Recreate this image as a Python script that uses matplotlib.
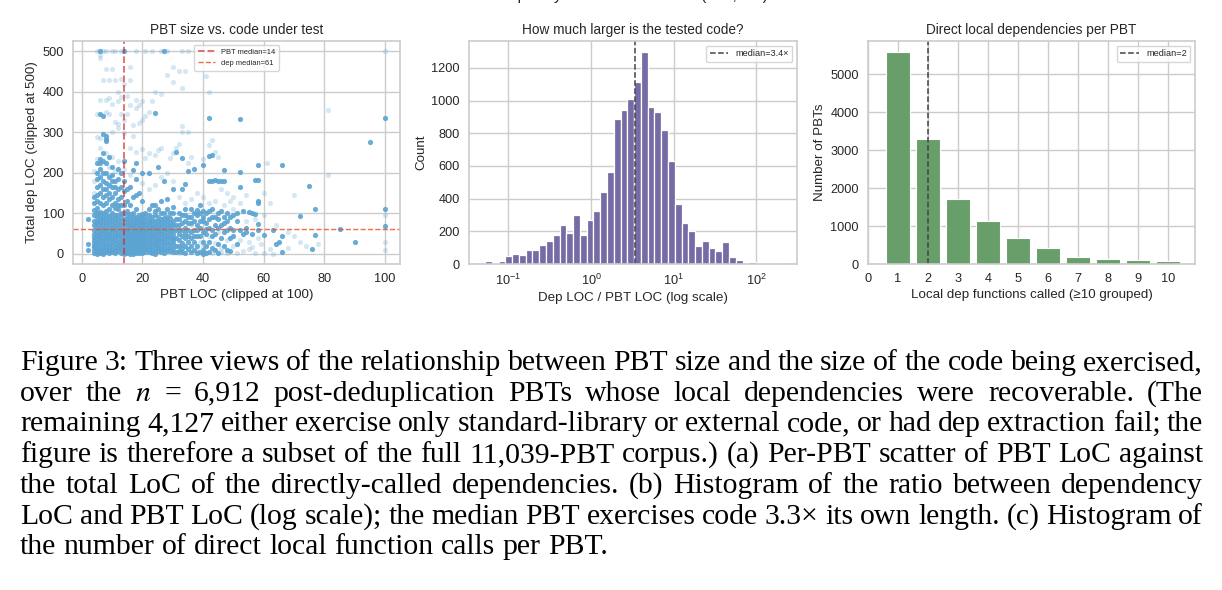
import numpy as np
import matplotlib
matplotlib.use("Agg")
import matplotlib.pyplot as plt
import seaborn as sns

# ---------------- data ----------------
# (a) scatter: (PBT LOC, total dep LOC) pairs
# strongly-drawn (overlapping) points
dense_points = [
    (2, 85), (2, 25), (2, 10),
    (4, 2), (4, 10), (4, 18), (4, 26), (4, 34), (4, 42), (4, 50), (4, 60), (4, 70), (4, 80), (4, 95), (4, 108), (4, 20),
    (4, 125), (4, 140),
    (5, 0), (5, 6), (5, 14), (5, 22), (5, 30), (5, 38), (5, 46), (5, 55), (5, 64), (5, 73), (5, 82), (5, 92), (5, 102),
    (5, 112), (5, 145), (5, 165), (5, 225), (5, 130), (5, 185), (5, 200),
    (6, 3), (6, 10), (6, 18), (6, 26), (6, 34), (6, 42), (6, 50), (6, 58), (6, 66), (6, 75), (6, 84), (6, 93), (6, 103),
    (6, 125), (6, 150), (6, 500), (6, 345), (6, 225), (6, 170), (6, 190), (6, 210), (6, 235),
    (7, 0), (7, 7), (7, 15), (7, 23), (7, 31), (7, 40), (7, 48), (7, 56), (7, 65), (7, 74), (7, 83), (7, 92), (7, 101),
    (7, 160), (7, 295), (7, 340), (7, 230), (7, 120), (7, 140), (7, 180), (7, 200), (7, 250),
    (8, 4), (8, 12), (8, 20), (8, 28), (8, 36), (8, 44), (8, 52), (8, 61), (8, 70), (8, 79), (8, 88), (8, 97), (8, 106),
    (8, 125), (8, 175), (8, 290), (8, 283), (8, 278), (8, 200), (8, 145), (8, 160), (8, 225),
    (9, 1), (9, 9), (9, 17), (9, 25), (9, 33), (9, 41), (9, 49), (9, 57), (9, 66), (9, 75), (9, 84), (9, 94), (9, 170),
    (9, 110), (9, 135), (9, 150), (9, 190), (9, 240),
    (10, 5), (10, 13), (10, 21), (10, 29), (10, 37), (10, 45), (10, 53), (10, 62), (10, 71), (10, 80), (10, 90),
    (10, 100), (10, 140), (10, 165), (10, 195), (10, 120), (10, 180), (10, 215),
    (11, 2), (11, 10), (11, 18), (11, 26), (11, 34), (11, 43), (11, 51), (11, 60), (11, 69), (11, 78), (11, 88),
    (11, 112), (11, 180), (11, 125), (11, 150), (11, 165), (11, 97),
    (12, 6), (12, 14), (12, 22), (12, 30), (12, 38), (12, 47), (12, 55), (12, 64), (12, 73), (12, 83), (12, 95),
    (12, 135), (12, 160), (12, 185), (12, 110), (12, 120), (12, 210),
    (13, 3), (13, 11), (13, 19), (13, 27), (13, 35), (13, 44), (13, 52), (13, 61), (13, 70), (13, 80), (13, 120),
    (13, 200), (13, 90), (13, 100), (13, 140), (13, 165),
    (14, 8), (14, 16), (14, 24), (14, 32), (14, 40), (14, 50), (14, 60), (14, 72), (14, 85), (14, 155), (14, 500),
    (14, 0), (14, 100), (14, 120), (14, 180), (14, 230),
    (15, 2), (15, 12), (15, 25), (15, 38), (15, 50), (15, 62), (15, 78), (15, 95), (15, 160),
    (15, 7), (15, 18), (15, 31), (15, 44), (15, 56), (15, 70), (15, 86), (15, 105), (15, 130),
    (16, 6), (16, 18), (16, 30), (16, 44), (16, 56), (16, 70), (16, 88), (16, 165),
    (16, 0), (16, 12), (16, 24), (16, 37), (16, 50), (16, 63), (16, 78), (16, 98), (16, 120),
    (17, 0), (17, 14), (17, 26), (17, 40), (17, 52), (17, 66), (17, 80), (17, 100), (17, 207),
    (17, 7), (17, 20), (17, 33), (17, 46), (17, 59), (17, 73), (17, 90), (17, 140),
    (18, 8), (18, 20), (18, 34), (18, 48), (18, 60), (18, 75), (18, 92), (18, 145), (18, 185), (18, 225),
    (18, 2), (18, 14), (18, 27), (18, 41), (18, 54), (18, 68), (18, 84), (18, 110),
    (19, 3), (19, 16), (19, 30), (19, 45), (19, 58), (19, 72), (19, 86),
    (19, 9), (19, 23), (19, 37), (19, 51), (19, 65), (19, 79), (19, 95), (19, 150),
    (20, 10), (20, 24), (20, 38), (20, 52), (20, 66), (20, 80), (20, 98), (20, 130), (20, 200),
    (20, 3), (20, 17), (20, 31), (20, 45), (20, 59), (20, 73), (20, 88),
    (21, 5), (21, 18), (21, 32), (21, 46), (21, 60), (21, 74), (21, 90),
    (21, 11), (21, 25), (21, 39), (21, 53), (21, 67), (21, 82), (21, 100),
    (22, 12), (22, 28), (22, 42), (22, 56), (22, 70), (22, 85), (22, 110), (22, 200),
    (22, 4), (22, 20), (22, 35), (22, 49), (22, 63), (22, 78), (22, 95),
    (23, 2), (23, 20), (23, 36), (23, 50), (23, 65), (23, 80), (23, 120),
    (23, 10), (23, 28), (23, 43), (23, 58), (23, 72), (23, 90),
    (24, 8), (24, 25), (24, 40), (24, 58), (24, 72), (24, 95), (24, 120), (24, 348),
    (24, 0), (24, 16), (24, 32), (24, 49), (24, 65), (24, 82), (24, 105),
    (25, 15), (25, 32), (25, 48), (25, 64), (25, 80), (25, 214),
    (25, 6), (25, 23), (25, 40), (25, 56), (25, 72), (25, 90), (25, 110),
    (26, 4), (26, 22), (26, 40), (26, 56), (26, 75), (26, 100), (26, 130),
    (26, 12), (26, 31), (26, 48), (26, 66), (26, 85),
    (27, 12), (27, 30), (27, 50), (27, 68), (27, 88), (27, 180), (27, 500),
    (27, 3), (27, 21), (27, 40), (27, 59), (27, 78), (27, 100),
    (28, 6), (28, 26), (28, 45), (28, 62), (28, 80), (28, 135),
    (28, 15), (28, 36), (28, 54), (28, 71), (28, 90), (28, 110),
    (29, 18), (29, 38), (29, 58), (29, 78), (29, 100),
    (29, 8), (29, 28), (29, 48), (29, 68), (29, 88),
    (30, 4), (30, 28), (30, 35), (30, 50), (30, 70), (30, 115), (30, 160),
    (30, 15), (30, 40), (30, 60), (30, 82), (30, 100),
    (31, 60), (31, 85), (31, 252), (31, 5), (31, 20), (31, 40), (31, 72),
    (32, 20), (32, 72), (32, 8), (32, 35), (32, 50), (32, 60), (32, 85), (32, 100),
    (33, 5), (33, 45), (33, 95), (33, 160), (33, 237), (33, 15), (33, 28), (33, 60), (33, 75),
    (34, 65), (34, 80), (34, 172), (34, 2), (34, 20), (34, 40), (34, 52), (34, 95), (34, 110),
    (35, 30), (35, 75), (35, 205), (35, 12), (35, 45), (35, 58), (35, 90),
    (36, 5), (36, 40), (36, 90), (36, 110), (36, 20), (36, 55), (36, 75),
    (37, 60), (37, 100), (37, 210), (37, 10), (37, 30), (37, 45), (37, 80),
    (38, 2), (38, 45), (38, 70), (38, 95), (38, 20), (38, 58), (38, 108),
    (39, 80), (39, 120), (39, 5), (39, 45), (39, 65), (39, 100),
    (40, 55), (40, 105), (40, 218), (40, 0), (40, 10), (40, 30), (40, 80), (40, 92),
    (41, 3), (41, 75), (41, 100), (41, 20), (41, 50), (41, 62),
    (42, 85), (42, 180), (42, 241), (42, 335), (42, 5), (42, 30), (42, 65), (42, 105),
    (43, 60), (43, 110), (43, 180), (43, 243), (43, 15), (43, 45), (43, 90),
    (44, 10), (44, 90), (44, 181), (44, 50), (44, 70),
    (45, 65), (45, 100), (45, 180), (45, 1), (45, 25), (45, 85),
    (46, 105), (46, 180), (46, 40), (46, 70),
    (47, 20), (47, 90), (47, 180), (47, 208), (47, 55), (47, 75),
    (48, 60), (48, 100), (48, 10), (48, 80),
    (49, 7), (49, 90), (49, 40), (49, 65),
    (50, 60), (50, 45), (50, 95), (51, 80), (51, 25), (51, 100),
    (52, 60), (52, 165), (52, 201), (52, 333), (53, 48), (53, 105), (54, 55), (54, 65),
    (55, 104), (56, 50), (56, 100), (57, 98), (57, 182), (58, 60), (58, 73), (58, 125), (58, 130), (58, 183),
    (58, 220), (60, 47), (63, 60), (64, 25), (65, 30), (66, 5), (66, 43), (66, 218), (72, 93), (75, 167),
    (76, 12), (77, 47), (77, 110), (85, 62), (90, 30), (95, 276), (100, 110), (100, 68), (100, 335),
]
# lightly-drawn (single) points
faint_points = [
    (5, 500), (7, 500), (8, 500), (10, 500), (11, 500), (13, 500), (18, 500), (21, 500), (23, 500), (26, 500),
    (28, 500), (33, 500), (35, 500), (42, 500), (100, 500),
    (6, 490), (6, 483), (8, 457), (10, 455), (7, 430), (9, 428), (11, 428), (13, 432), (16, 462), (14, 420),
    (16, 430), (12, 400), (28, 440), (30, 462), (32, 452), (34, 452), (30, 425), (41, 438), (42, 400), (33, 410),
    (6, 380), (8, 380), (9, 385), (10, 370), (12, 378), (13, 388), (15, 390), (18, 380), (20, 378), (19, 368),
    (23, 378), (22, 350), (21, 340), (20, 330), (19, 323), (17, 318), (14, 330), (12, 320), (11, 325), (9, 345),
    (8, 350), (5, 345), (13, 345), (15, 346), (18, 360), (16, 368), (24, 398), (26, 395),
    (33, 315), (33, 300), (35, 300), (43, 280), (42, 268), (44, 252), (45, 240), (40, 235), (36, 240), (35, 225),
    (32, 270), (31, 260), (30, 250), (29, 236), (26, 262), (25, 255), (24, 245), (22, 250), (21, 236), (20, 258),
    (18, 252), (16, 262), (17, 290), (14, 298), (10, 300), (12, 310), (6, 285), (5, 288),
    (81, 355), (81, 195), (70, 145), (72, 30), (61, 225), (60, 150), (62, 12), (58, 40), (55, 30), (50, 20),
    (48, 35), (45, 55), (42, 45), (40, 20), (100, 95), (100, 10), (100, 30), (78, 25), (68, 15), (62, 125),
    (54, 145), (50, 140), (48, 150), (46, 160), (44, 130), (40, 140), (38, 150), (36, 135), (34, 125), (32, 140),
    (30, 180), (28, 200), (26, 190), (24, 170), (22, 160), (20, 175), (16, 195), (14, 210), (12, 230), (10, 240),
    (8, 250), (6, 260), (5, 235), (9, 215), (11, 205), (4, 205), (4, 180), (4, 150), (56, 18), (53, 8), (46, 5),
    (44, 28), (52, 35), (54, 80), (57, 85), (60, 95), (64, 70), (68, 55), (70, 45), (74, 20), (36, 70), (39, 30),
    (42, 125), (47, 120), (49, 130), (50, 110), (52, 125),
    (32, 2), (43, 2), (48, 3), (51, 2), (57, 1), (60, 3), (63, 0), (55, 12), (59, 25), (46, 15), (38, 10),
]
pbt_loc_dense = [p[0] for p in dense_points]
dep_loc_dense = [p[1] for p in dense_points]
pbt_loc_faint = [p[0] for p in faint_points]
dep_loc_faint = [p[1] for p in faint_points]

pbt_median = 14
dep_median = 61

# (b) histogram of dep LOC / PBT LOC (log bins)
ratio_bin_lo, ratio_bin_hi, ratio_n_bins = 0.052, 213.0, 44
ratio_counts = [18, 0, 20, 51, 59, 53, 84, 84, 116, 141, 176, 239, 188, 300, 176,
                267, 322, 443, 561, 888, 943, 1010, 1116, 1296, 959, 929, 820,
                631, 369, 251, 204, 112, 141, 98, 82, 137, 41, 24, 2, 10, 0, 0, 0, 1]
ratio_median = 3.4

# (c) number of direct local dependency functions called
n_deps = [1, 2, 3, 4, 5, 6, 7, 8, 9, 10]
n_pbts = [5572, 3292, 1699, 1127, 678, 423, 194, 141, 114, 70]
deps_median = 2

caption_lines = [
    "Figure 3: Three views of the relationship between PBT size and the size of the code being exercised,",
    "over the $n$ = 6,912 post-deduplication PBTs whose local dependencies were recoverable. (The",
    "remaining 4,127 either exercise only standard-library or external code, or had dep extraction fail; the",
    "figure is therefore a subset of the full 11,039-PBT corpus.) (a) Per-PBT scatter of PBT LoC against",
    "the total LoC of the directly-called dependencies. (b) Histogram of the ratio between dependency",
    "LoC and PBT LoC (log scale); the median PBT exercises code 3.3\u00d7 its own length. (c) Histogram of",
    "the number of direct local function calls per PBT.",
]

# ---------------- style ----------------
sns.set_style("whitegrid")
plt.rcParams["font.family"] = ["Liberation Sans", "DejaVu Sans"]
plt.rcParams["mathtext.fontset"] = "stix"
plt.rcParams["axes.edgecolor"] = "#cccccc"
plt.rcParams["grid.color"] = "#cccccc"

W, H = 1222, 590
fig = plt.figure(figsize=(W / 100, H / 100), dpi=100)

def px_axes(l, t, r, b):
    return fig.add_axes([l / W, 1 - b / H, (r - l) / W, (b - t) / H])

ax1 = px_axes(73, 41, 400, 264)
ax2 = px_axes(469, 41, 797, 264)
ax3 = px_axes(868, 41, 1195, 264)

TICK_FS = 9.2
LAB_FS = 9.6
TITLE_FS = 9.8
TXT = "#262626"

blue = "#5aa3d2"
# (a)
ax1.scatter(pbt_loc_faint, dep_loc_faint, s=14, color=blue, alpha=0.25, linewidths=0)
ax1.scatter(pbt_loc_dense, dep_loc_dense, s=14, color=blue, alpha=0.9, linewidths=0)
ax1.axvline(pbt_median, color="#d62728", ls="--", lw=1.3, alpha=0.7, label=f"PBT median={pbt_median}")
ax1.axhline(dep_median, color="#e4572e", ls="--", lw=1.0, alpha=0.85, label=f"dep median={dep_median}")
ax1.set_xlim(-2.9, 104.9)
ax1.set_ylim(-25, 525)
ax1.set_xticks([0, 20, 40, 60, 80, 100])
ax1.set_yticks([0, 100, 200, 300, 400, 500])
ax1.set_title("PBT size vs. code under test", fontsize=TITLE_FS, color=TXT, pad=5)
ax1.set_xlabel("PBT LOC (clipped at 100)", fontsize=LAB_FS, color=TXT, labelpad=3)
ax1.set_ylabel("Total dep LOC (clipped at 500)", fontsize=LAB_FS, color=TXT, labelpad=3)
ax1.legend(loc="upper center", fontsize=5.4, frameon=True, handlelength=2.2,
           borderpad=0.5, labelspacing=0.5)

# (b)
edges = np.logspace(np.log10(ratio_bin_lo), np.log10(ratio_bin_hi), ratio_n_bins + 1)
ax2.bar(edges[:-1], ratio_counts, width=np.diff(edges), align="edge",
        color="#776ba6", edgecolor="white", linewidth=0.9)
ax2.set_xscale("log")
ax2.axvline(ratio_median, color="#444444", ls="--", lw=1.1, label=f"median={ratio_median}\u00d7")
ax2.set_xlim(10 ** -1.478, 10 ** 2.495)
ax2.set_ylim(0, 1365)
ax2.set_yticks([0, 200, 400, 600, 800, 1000, 1200])
ax2.set_xticks([0.1, 1, 10, 100])
ax2.minorticks_off()
ax2.set_title("How much larger is the tested code?", fontsize=TITLE_FS, color=TXT, pad=5)
ax2.set_xlabel("Dep LOC / PBT LOC (log scale)", fontsize=LAB_FS, color=TXT, labelpad=3)
ax2.set_ylabel("Count", fontsize=LAB_FS, color=TXT, labelpad=3)
ax2.legend(loc="upper right", fontsize=6.6, handlelength=2.0)

# (c)
ax3.bar(n_deps, n_pbts, width=0.8, color="#679e69", edgecolor="white", linewidth=0.8)
ax3.axvline(deps_median, color="#444444", ls="--", lw=1.1, label=f"median={deps_median}")
ax3.set_xlim(0, 10.9)
ax3.set_ylim(0, 5870)
ax3.set_xticks(list(range(0, 11)))
ax3.set_yticks([0, 1000, 2000, 3000, 4000, 5000])
ax3.set_title("Direct local dependencies per PBT", fontsize=TITLE_FS, color=TXT, pad=5)
ax3.set_xlabel("Local dep functions called (\u226510 grouped)", fontsize=LAB_FS, color=TXT, labelpad=3)
ax3.set_ylabel("Number of PBTs", fontsize=LAB_FS, color=TXT, labelpad=3)
ax3.legend(loc="upper right", fontsize=6.6, handlelength=2.0)

for ax in (ax1, ax2, ax3):
    ax.tick_params(labelsize=TICK_FS, colors=TXT, pad=3)
    for sp in ax.spines.values():
        sp.set_color("#cccccc")
        sp.set_linewidth(1.2)
    ax.grid(True, color="#cccccc", lw=1.0)
    ax.set_axisbelow(True)

# cut-off suptitle at the very top (only its descenders show, as in the reference)
fig.text(0.5, 1.0, "PBT complexity vs. code under test (n=6,912)", ha="center",
         va="baseline", fontsize=11.2, color=TXT)

# ---------------- caption (justified) ----------------
renderer = fig.canvas.get_renderer()
CAP_FS = 21.4
left_px, right_px = 20, 1203
for i, line in enumerate(caption_lines):
    base_px = 370 + i * 30.7
    y = 1 - base_px / H
    words = line.split(" ")
    texts = [fig.text(0, y, w, fontsize=CAP_FS, family=["Liberation Serif", "DejaVu Serif"],
                      va="baseline", ha="left", color="black") for w in words]
    widths = [t.get_window_extent(renderer).width for t in texts]
    if i < len(caption_lines) - 1:
        gap = (right_px - left_px - sum(widths)) / (len(words) - 1)
    else:
        gap = 0.25 * CAP_FS * 100 / 72
    x = left_px
    for t, w in zip(texts, widths):
        t.set_x(x / W)
        x += w + gap

fig.savefig("out.png", dpi=100)
